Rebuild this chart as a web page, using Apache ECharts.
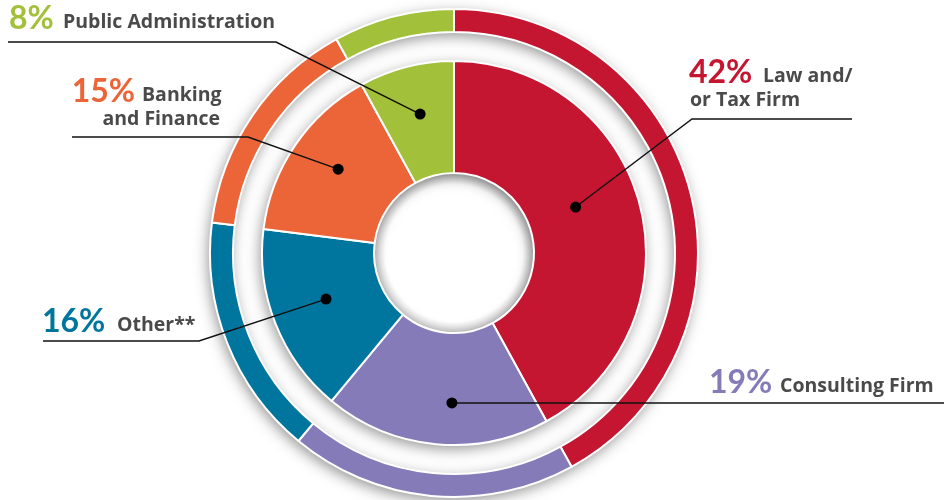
<!DOCTYPE html>
<html>
<head>
<meta charset="utf-8">
<script src="https://cdn.jsdelivr.net/npm/echarts@6/dist/echarts.min.js"></script>
<style>
  html, body { margin: 0; padding: 0; background: #fff; }
  #chart { width: 944px; height: 500px; }
</style>
</head>
<body>
<div id="chart"></div>
<script>
// ---- data ----
const categories = ['Law and/ or Tax Firm', 'Consulting Firm', 'Other**', 'Banking and Finance', 'Public Administration'];
const values = [42, 19, 16, 15, 8];
const percentLabels = ['42%', '19%', '16%', '15%', '8%'];
const nameLines = [['Law and/', 'or Tax Firm'], ['Consulting Firm'], ['Other**'], ['Banking', 'and Finance'], ['Public Administration']];
const colors = ['#C41631', '#857BB8', '#00769E', '#EC6539', '#A2C03A'];

// ---- layout ----
const CX = 454, CY = 253;
const HOLE_R = 80, PIE_R = 192, RING_R0 = 221, RING_R1 = 244;
const NAME_COLOR = '#4a4a4a';
const NUM_FONT = 'Lato, sans-serif';
const NAME_FONT = '"Open Sans", Lato, sans-serif';
const NUM_SIZE = 32, NAME_SIZE = 19.5;
// annotation layout: anchor (radius, angle nudge in degrees), text positions (baselines), leader elbow & end
const annot = [
  { r: 130, nudge: -6.3, numX: 689, numAlign: 'left',  base: 82,  nameX: 763, nameAlign: 'left', line2X: 690, line2Align: 'left', base2: 106, elbow: [692, 119], end: [852, 119] },
  { r: 150, nudge: -4.6, numX: 709, numAlign: 'left',  base: 392, nameX: 780, nameAlign: 'left', elbow: null, end: [944, 403] },
  { r: 136, nudge: 1.8,  numX: 42,  numAlign: 'left',  base: 331, nameX: 117, nameAlign: 'left', elbow: [199, 341], end: [43, 341] },
  { r: 143, nudge: 1.7,  numX: 135, numAlign: 'right', base: 101, nameX: 142, nameAlign: 'left', line2X: 220, line2Align: 'right', base2: 125, elbow: [248, 137], end: [72, 137] },
  { r: 143, nudge: 0.7,  numX: 9,   numAlign: 'left',  base: 28,  nameX: 63,  nameAlign: 'left', elbow: [276, 42], end: [8, 42] }
];

const chart = echarts.init(document.getElementById('chart'), null, { renderer: 'canvas' });

const pieData = categories.map((c, i) => ({ name: c, value: values[i], itemStyle: { color: colors[i] } }));

const commonPie = {
  type: 'pie',
  center: [CX, CY],
  startAngle: 90,
  clockwise: true,
  silent: true,
  animation: false,
  label: { show: false },
  labelLine: { show: false },
  emphasis: { disabled: true }
};

const shadowStyle = {
  color: '#ffffff',
  shadowBlur: 14,
  shadowColor: 'rgba(0,0,0,0.42)',
  shadowOffsetX: -2,
  shadowOffsetY: 4
};

function textEl(str, x, baseline, size, font, weight, color, align) {
  return {
    type: 'text', z: 102, x: x, y: baseline - 0.3 * size,
    style: { text: str, fontFamily: font, fontWeight: weight, fontSize: size, fill: color, align: align, verticalAlign: 'middle' }
  };
}

// compute annotation graphics from the data
const total = values.reduce((a, b) => a + b, 0);
const graphics = [];
let acc = 0;
values.forEach((v, i) => {
  const a = annot[i];
  const midDeg = (acc + v / 2) / total * 360 + a.nudge;
  acc += v;
  const rad = midDeg * Math.PI / 180;
  const dx = CX + a.r * Math.sin(rad);
  const dy = CY - a.r * Math.cos(rad);
  const pts = a.elbow ? [[dx, dy], a.elbow, a.end] : [[dx, dy], [a.end[0], dy]];
  graphics.push({ type: 'polyline', z: 100, shape: { points: pts }, style: { stroke: '#111', lineWidth: 1.4, fill: null } });
  graphics.push({ type: 'circle', z: 101, shape: { cx: dx, cy: dy, r: 5.5 }, style: { fill: '#000' } });
  graphics.push(textEl(percentLabels[i], a.numX, a.base, NUM_SIZE, NUM_FONT, 'bold', colors[i], a.numAlign));
  graphics.push(textEl(nameLines[i][0], a.nameX, a.base, NAME_SIZE, NAME_FONT, 'bold', NAME_COLOR, a.nameAlign));
  if (nameLines[i][1]) {
    graphics.push(textEl(nameLines[i][1], a.line2X, a.base2, NAME_SIZE, NAME_FONT, 'bold', NAME_COLOR, a.line2Align));
  }
});

chart.setOption({
  backgroundColor: '#ffffff',
  series: [
    // inner hole shading
    Object.assign({}, commonPie, {
      radius: [HOLE_R - 18, HOLE_R], z: 1,
      data: [{ value: 1, itemStyle: { color: {
        type: 'radial', x: 0.5, y: 0.5, r: 0.5,
        colorStops: [ { offset: 0, color: '#ffffff' }, { offset: 0.86, color: '#ffffff' }, { offset: 1, color: '#cfcfcf' } ]
      } } }]
    }),
    // pie backing with shadow
    Object.assign({}, commonPie, { radius: [HOLE_R, PIE_R], z: 2, data: [{ value: 1, itemStyle: shadowStyle }] }),
    // main pie
    Object.assign({}, commonPie, {
      radius: [HOLE_R, PIE_R], z: 3,
      itemStyle: { borderColor: '#ffffff', borderWidth: 2 },
      data: pieData
    }),
    // ring backing with shadow
    Object.assign({}, commonPie, { radius: [RING_R0, RING_R1], z: 2, data: [{ value: 1, itemStyle: shadowStyle }] }),
    // outer ring
    Object.assign({}, commonPie, {
      radius: [RING_R0, RING_R1], z: 3,
      itemStyle: { borderColor: '#ffffff', borderWidth: 2 },
      data: pieData
    })
  ],
  graphic: graphics
});
</script>
</body>
</html>
